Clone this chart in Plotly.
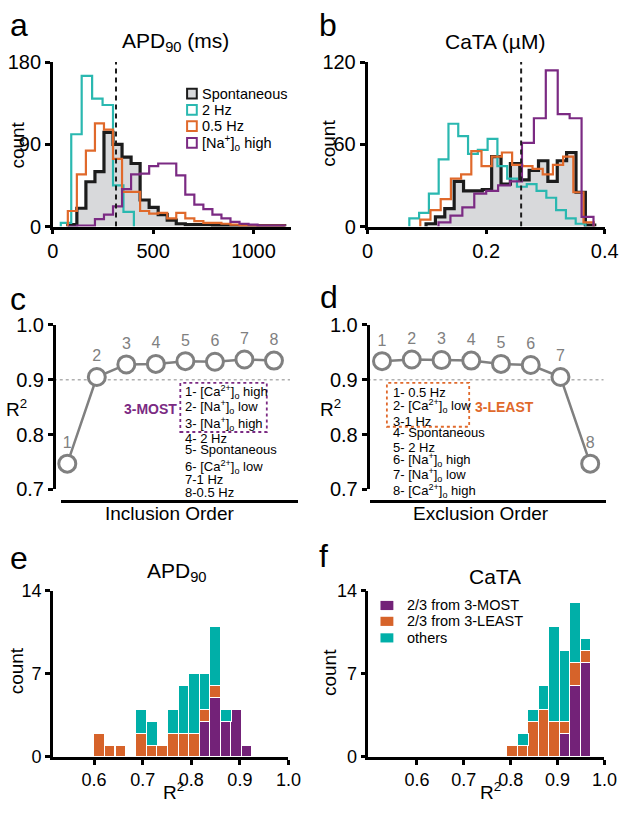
import plotly.graph_objects as go

W, H = 633, 814

# ---------------- panel a : APD90 histograms (ms) ----------------
apd_spont_start, apd_spont_width = 75, 45
apd_spont_counts = [2, 20, 49, 60, 103, 90, 76, 69, 29, 21, 13, 7, 3, 2, 2, 2, 1, 1, 1, 1, 1, 1, 1, 1]
apd_2hz_start, apd_2hz_width = 40, 52
apd_2hz_counts = [4, 101, 165, 140, 133, 45, 16]
apd_05hz_start, apd_05hz_width = 75, 45
apd_05hz_counts = [17, 57, 83, 113, 106, 74, 38, 38, 17, 14, 15, 9, 15, 9, 6, 4, 4, 3, 2, 1, 1, 1, 1, 1]
apd_na_start, apd_na_width = 75, 45
apd_na_counts = [0, 1, 1, 8, 13, 22, 41, 57, 58, 66, 69, 69, 56, 35, 24, 19, 13, 9, 5, 3, 2, 1, 1, 1]
apd_exp_value = 315

# ---------------- panel b : CaTA histograms (uM) ----------------
cata_spont_start, cata_spont_width = 0.0987, 0.0158
cata_spont_counts = [2, 7, 13, 33, 26, 26, 27, 51, 31, 46, 34, 41, 48, 33, 48, 54, 25, 1]
cata_2hz_start, cata_2hz_width = 0.0705, 0.0165
cata_2hz_counts = [6, 10, 24, 49, 75, 66, 53, 56, 64, 44, 35, 29, 31, 26, 21, 12, 6, 2]
cata_05hz_start, cata_05hz_width = 0.089, 0.0172
cata_05hz_counts = [5, 12, 20, 35, 38, 55, 44, 51, 54, 45, 44, 42, 38, 45, 51, 25, 3]
cata_na_start, cata_na_width = 0.1197, 0.0201
cata_na_counts = [3, 8, 14, 24, 26, 30, 33, 61, 79, 114, 82, 79, 7]
cata_exp_value = 0.259

# ---------------- panels c / d : R2 vs order ----------------
order_steps = [1, 2, 3, 4, 5, 6, 7, 8]
r2_inclusion = [0.747, 0.905, 0.928, 0.929, 0.934, 0.933, 0.937, 0.935]
r2_exclusion = [0.934, 0.937, 0.936, 0.935, 0.929, 0.927, 0.905, 0.747]
r2_cutoff = 0.9
inclusion_order = ["1- [Ca<sup>2+</sup>]<sub>o</sub> high", "2- [Na<sup>+</sup>]<sub>o</sub> low",
                   "3- [Na<sup>+</sup>]<sub>o</sub> high", "4- 2 Hz", "5- Spontaneous",
                   "6- [Ca<sup>2+</sup>]<sub>o</sub> low", "7-1 Hz", "8-0.5 Hz"]
exclusion_order = ["1- 0.5 Hz", "2- [Ca<sup>2+</sup>]<sub>o</sub> low", "3-1 Hz", "4- Spontaneous",
                   "5- 2 Hz", "6- [Na<sup>+</sup>]<sub>o</sub> high", "7- [Na<sup>+</sup>]<sub>o</sub> low",
                   "8- [Ca<sup>2+</sup>]<sub>o</sub> high"]

# ---------------- panels e / f : R2 distributions ----------------
apd_r2_bins = [0.610, 0.632, 0.654, 0.676, 0.697, 0.719, 0.740, 0.762, 0.784, 0.806, 0.827, 0.849, 0.871, 0.892, 0.914]
apd_r2_most = [0, 0, 0, 0, 0, 0, 0, 0, 0, 0, 3, 5, 3, 4, 1]
apd_r2_least = [2, 1, 1, 0, 2, 1, 1, 2, 2, 2, 1, 1, 0, 0, 0]
apd_r2_other = [0, 0, 0, 0, 2, 2, 0, 2, 4, 5, 3, 5, 1, 0, 0]
cata_r2_bins = [0.803, 0.826, 0.848, 0.870, 0.892, 0.915, 0.937, 0.960]
cata_r2_most = [0, 0, 0, 0, 0, 2, 6, 8]
cata_r2_least = [1, 1, 3, 4, 3, 1, 2, 1]
cata_r2_other = [0, 1, 1, 2, 8, 6, 5, 1]
group_names = ["2/3 from 3-MOST", "2/3 from 3-LEAST", "others"]

FONT = "Liberation Sans"
BLACK = "#1c1c1c"
FILL = "#d8d9db"
CYAN = "#2ab8b0"
ORANGE = "#e0692b"
PURPLE = "#7b2a83"
BAR_PURPLE = "#732278"
BAR_ORANGE = "#d6632a"
BAR_CYAN = "#00afa8"
GRAY = "#808080"


def step_xy(start, width, counts):
    edges = [start + width * i for i in range(len(counts) + 1)]
    return [edges[0]] + edges, [0] + list(counts) + [0]


def px(x):
    return x / W


def py(y):
    return 1 - y / H


def ann(text, x, y, size, color="black", xanchor="center", angle=0, bold=False):
    if bold:
        text = "<b>" + text + "</b>"
    return dict(text=text, x=px(x), y=py(y), xref="paper", yref="paper", showarrow=False,
                xanchor=xanchor, yanchor="middle", textangle=angle,
                font=dict(family=FONT, size=size, color=color))


def rect(x0, y0, x1, y1, fill="rgba(0,0,0,0)", line=None, lw=2, dash="solid"):
    return dict(type="rect", xref="paper", yref="paper", x0=px(x0), x1=px(x1), y0=py(y1), y1=py(y0),
                fillcolor=fill, line=dict(color=line or fill, width=lw, dash=dash), layer="above")


fig = go.Figure()

# panel a
for start, width, counts, color, lw, fill in [
        (apd_spont_start, apd_spont_width, apd_spont_counts, BLACK, 3.2, True),
        (apd_2hz_start, apd_2hz_width, apd_2hz_counts, CYAN, 2.2, False),
        (apd_05hz_start, apd_05hz_width, apd_05hz_counts, ORANGE, 2.2, False),
        (apd_na_start, apd_na_width, apd_na_counts, PURPLE, 2.2, False)]:
    x, y = step_xy(start, width, counts)
    fig.add_trace(go.Scatter(x=x, y=y, mode="lines", line=dict(shape="hv", color=color, width=lw),
                             fill="tozeroy" if fill else None, fillcolor=FILL,
                             xaxis="x", yaxis="y", showlegend=False, hoverinfo="skip"))

# panel b
for start, width, counts, color, lw, fill in [
        (cata_spont_start, cata_spont_width, cata_spont_counts, BLACK, 3.2, True),
        (cata_2hz_start, cata_2hz_width, cata_2hz_counts, CYAN, 2.2, False),
        (cata_05hz_start, cata_05hz_width, cata_05hz_counts, ORANGE, 2.2, False),
        (cata_na_start, cata_na_width, cata_na_counts, PURPLE, 2.2, False)]:
    x, y = step_xy(start, width, counts)
    fig.add_trace(go.Scatter(x=x, y=y, mode="lines", line=dict(shape="hv", color=color, width=lw),
                             fill="tozeroy" if fill else None, fillcolor=FILL,
                             xaxis="x2", yaxis="y2", showlegend=False, hoverinfo="skip"))

# panels c, d
for r2, xa, ya in [(r2_inclusion, "x3", "y3"), (r2_exclusion, "x4", "y4")]:
    fig.add_trace(go.Scatter(x=order_steps, y=r2, mode="lines+markers+text",
                             text=[str(s) for s in order_steps], textposition="top center",
                             textfont=dict(family=FONT, size=16, color=GRAY),
                             line=dict(color=GRAY, width=2.5),
                             marker=dict(size=17, color="white", line=dict(color=GRAY, width=3)),
                             xaxis=xa, yaxis=ya, showlegend=False, cliponaxis=False))


def nz(vals):
    return [v if v else None for v in vals]


# panels e, f
for bins, most, least, other, xa, ya, bw in [
        (apd_r2_bins, apd_r2_most, apd_r2_least, apd_r2_other, "x5", "y5", 0.0217),
        (cata_r2_bins, cata_r2_most, cata_r2_least, cata_r2_other, "x6", "y6", 0.0224)]:
    for vals, color in [(most, BAR_PURPLE), (least, BAR_ORANGE), (other, BAR_CYAN)]:
        fig.add_trace(go.Bar(x=bins, y=nz(vals), width=bw, marker=dict(color=color, line=dict(color="white", width=1)),
                             xaxis=xa, yaxis=ya, showlegend=False))

axis_base = dict(showline=True, linecolor="black", linewidth=2.5, ticks="outside", ticklen=5, tickwidth=2.5,
                 tickcolor="black", showgrid=False, zeroline=False,
                 tickfont=dict(family=FONT, size=20, color="black"))
small_ticks = dict(axis_base, tickfont=dict(family=FONT, size=18, color="black"))

fig.update_layout(
    width=W, height=H, margin=dict(l=0, r=0, t=0, b=0), autosize=False,
    paper_bgcolor="white", plot_bgcolor="white", barmode="stack",
    font=dict(family=FONT, color="black"),
    xaxis=dict(axis_base, domain=[px(48.3), px(294)], range=[0, 1185], tickvals=[0, 500, 1000], anchor="y"),
    yaxis=dict(axis_base, domain=[py(221.5), py(52.5)], range=[0, 180], tickvals=[0, 90, 180], anchor="x"),
    xaxis2=dict(axis_base, domain=[px(373.3), px(618.3)], range=[0, 0.4], tickvals=[0, 0.2, 0.4],
                ticktext=["0", "0.2", "0.4"], anchor="y2"),
    yaxis2=dict(axis_base, domain=[py(221.5), py(52.5)], range=[0, 120], tickvals=[0, 60, 120], anchor="x2"),
    xaxis3=dict(axis_base, domain=[px(56.7), px(301.7)], range=[0.784, 8.82], ticks="", showticklabels=False,
                anchor="free", position=py(504)),
    yaxis3=dict(axis_base, domain=[py(491.7), py(322.7)], range=[0.7, 1.0], tickvals=[0.7, 0.8, 0.9, 1.0],
                ticktext=["0.7", "0.8", "0.9", "1.0"], anchor="free", position=px(49.3)),
    xaxis4=dict(axis_base, domain=[px(376), px(620)], range=[0.5995, 8.545], ticks="", showticklabels=False,
                anchor="free", position=py(504)),
    yaxis4=dict(axis_base, domain=[py(491.7), py(322.7)], range=[0.7, 1.0], tickvals=[0.7, 0.8, 0.9, 1.0],
                ticktext=["0.7", "0.8", "0.9", "1.0"], anchor="free", position=px(373.3)),
    xaxis5=dict(small_ticks, domain=[px(48.3), px(291.7)], range=[0.515, 1.0], tickvals=[0.6, 0.7, 0.8, 0.9, 1.0],
                ticktext=["0.6", "0.7", "0.8", "0.9", "1.0"], anchor="y5"),
    yaxis5=dict(small_ticks, domain=[py(766.7), py(596)], range=[0, 14], tickvals=[0, 7, 14], anchor="x5"),
    xaxis6=dict(small_ticks, domain=[px(374.3), px(618)], range=[0.4966, 1.0], tickvals=[0.6, 0.7, 0.8, 0.9, 1.0],
                ticktext=["0.6", "0.7", "0.8", "0.9", "1.0"], anchor="y6"),
    yaxis6=dict(small_ticks, domain=[py(766.7), py(596)], range=[0, 14], tickvals=[0, 7, 14], anchor="x6"),
)

shapes = [
    dict(type="line", xref="x", yref="y", x0=apd_exp_value, x1=apd_exp_value, y0=0, y1=180,
         line=dict(color=BLACK, width=2, dash="5px,4px"), layer="above"),
    dict(type="line", xref="x2", yref="y2", x0=cata_exp_value, x1=cata_exp_value, y0=0, y1=120,
         line=dict(color=BLACK, width=2, dash="5px,4px"), layer="above"),
    dict(type="line", xref="paper", yref="y3", x0=px(49.3), x1=px(293.3), y0=r2_cutoff, y1=r2_cutoff,
         line=dict(color="#b0b0b0", width=1.5, dash="dot"), layer="below"),
    dict(type="line", xref="paper", yref="y4", x0=px(373.3), x1=px(617), y0=r2_cutoff, y1=r2_cutoff,
         line=dict(color="#b0b0b0", width=1.5, dash="dot"), layer="below"),
    rect(180, 382.3, 269.3, 432.7, line=PURPLE, lw=1.8, dash="dot"),
    rect(393.3, 382.3, 478.3, 427.3, line=ORANGE, lw=1.8, dash="dot"),
]

annotations = [
    ann("a", 2, 14, 32, xanchor="left"), ann("b", 321, 14, 32, xanchor="left"),
    ann("c", 2, 296, 32, xanchor="left"), ann("d", 322, 294, 32, xanchor="left"),
    ann("e", 2, 562, 32, xanchor="left"), ann("f", 321, 560, 32, xanchor="left"),
    ann("APD<sub>90</sub> (ms)", 175, 31.7, 21), ann("CaTA (µM)", 505, 31.7, 21),
    ann("APD<sub>90</sub>", 176.7, 577, 21), ann("CaTA", 505, 581.7, 21),
    ann("count", 12, 137.7, 19, angle=-90), ann("count", 333, 136, 19, angle=-90),
    ann("count", 11, 678, 19, angle=-90), ann("count", 334, 680, 19, angle=-90),
    ann("R<sup>2</sup>", 11, 408.3, 19), ann("R<sup>2</sup>", 335, 408.3, 19),
    ann("R<sup>2</sup>", 173, 802, 19), ann("R<sup>2</sup>", 500, 802, 19),
    ann("Inclusion Order", 169, 516.7, 19), ann("Exclusion Order", 491, 516.7, 19),
    ann("3-MOST", 149, 409.3, 14, color=PURPLE, bold=True),
    ann("3-LEAST", 482, 407.3, 14, color=ORANGE, bold=True, xanchor="left"),
]

for text, y in zip(inclusion_order, [391.7, 407.3, 424, 439.3, 451, 468.3, 481, 495]):
    annotations.append(ann(text, 182.7, y, 13, xanchor="left"))
for text, y in zip(exclusion_order, [391.7, 406, 421.7, 433.3, 448.3, 461.7, 476.7, 493.3]):
    annotations.append(ann(text, 397.3, y, 13, xanchor="left"))

# legend panel a
legend_a = [("Spontaneous", BLACK, FILL), ("2 Hz", CYAN, "white"), ("0.5 Hz", ORANGE, "white"),
            ("[Na<sup>+</sup>]<sub>o</sub> high", PURPLE, "white")]
for (name, lc, fc), y in zip(legend_a, [85, 101.7, 118.3, 135.5]):
    shapes.append(rect(187, y - 5, 197, y + 5, fill=fc, line=lc, lw=2))
    annotations.append(ann(name, 200, y, 14.5, xanchor="left"))

# legend panel f
for name, color, y in zip(group_names, [BAR_PURPLE, BAR_ORANGE, BAR_CYAN], [611, 627.3, 644.3]):
    shapes.append(rect(386.7, y - 4.7, 400, y + 4.7, fill=color, lw=0))
    annotations.append(ann(name, 411.7, y, 14.5, xanchor="left"))

fig.update_layout(shapes=shapes, annotations=annotations)
fig.write_html("out.html", config={"displayModeBar": False},
               post_script="document.documentElement.style.margin='0';document.body.style.margin='0';"
                           "document.documentElement.style.overflow='hidden';document.body.style.overflow='hidden';")
